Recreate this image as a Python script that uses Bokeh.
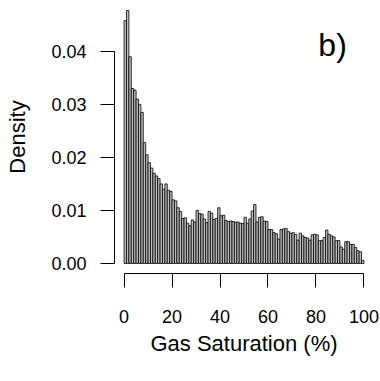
from bokeh.plotting import figure
from bokeh.models import FixedTicker, NumeralTickFormatter, Label, Range1d
from bokeh.embed import file_html
from bokeh.resources import INLINE

# Histogram: bin edges (Gas Saturation, %) and density per bin
bin_edges = list(range(0, 101))
density = [
    0.0458, 0.0477, 0.0390, 0.0330, 0.0327, 0.0310, 0.0300, 0.0285, 0.0228, 0.0205,
    0.0190, 0.0180, 0.0170, 0.0165, 0.0160, 0.0150, 0.0140, 0.0150, 0.0138, 0.0136,
    0.0120, 0.0118, 0.0105, 0.0098, 0.0085, 0.0086, 0.0076, 0.0071, 0.0082, 0.0078,
    0.0100, 0.0094, 0.0093, 0.0084, 0.0077, 0.0098, 0.0095, 0.0083, 0.0085, 0.0105,
    0.0090, 0.0091, 0.0081, 0.0079, 0.0080, 0.0079, 0.0078, 0.0078, 0.0076, 0.0075,
    0.0087, 0.0076, 0.0084, 0.0099, 0.0111, 0.0078, 0.0087, 0.0088, 0.0080, 0.0079,
    0.0064, 0.0064, 0.0058, 0.0056, 0.0046, 0.0064, 0.0065, 0.0066, 0.0060, 0.0057,
    0.0058, 0.0055, 0.0044, 0.0057, 0.0052, 0.0049, 0.0048, 0.0044, 0.0054, 0.0055,
    0.0054, 0.0043, 0.0043, 0.0049, 0.0063, 0.0055, 0.0052, 0.0050, 0.0043, 0.0043,
    0.0031, 0.0027, 0.0041, 0.0041, 0.0036, 0.0036, 0.0030, 0.0024, 0.0022, 0.0006,
]
x_ticks = [0, 20, 40, 60, 80, 100]
y_ticks = [0.0, 0.01, 0.02, 0.03, 0.04]
panel_label = "b)"
x_title = "Gas Saturation (%)"
y_title = "Density"

FONT = "Liberation Sans"

p = figure(width=380, height=381, output_backend="svg", toolbar_location=None,
           x_range=Range1d(-4, 104), y_range=Range1d(-0.0019, 0.0496),
           min_border_left=114, min_border_right=7, min_border_top=0,
           min_border_bottom=108)
p.outline_line_color = None
p.xgrid.visible = False
p.ygrid.visible = False
p.background_fill_color = "white"
p.border_fill_color = "white"

p.quad(left=bin_edges[:-1], right=bin_edges[1:], bottom=0, top=density,
       fill_color="#bebebe", line_color="black", line_width=0.8)

for ax, ticks in ((p.xaxis[0], x_ticks), (p.yaxis[0], y_ticks)):
    ax.ticker = FixedTicker(ticks=ticks)
    ax.bounds = (ticks[0], ticks[-1])
    ax.major_tick_in = 0
    ax.major_tick_out = 14
    ax.minor_tick_line_color = None
    ax.axis_line_color = "black"
    ax.major_tick_line_color = "black"
    ax.major_label_text_font = FONT
    ax.major_label_text_font_size = "18px"
    ax.major_label_text_color = "black"
    ax.axis_label_text_font = FONT
    ax.axis_label_text_font_size = "22px"
    ax.axis_label_text_font_style = "normal"
    ax.axis_label_text_color = "black"

p.yaxis[0].formatter = NumeralTickFormatter(format="0.00")
p.yaxis[0].major_label_orientation = "horizontal"
p.yaxis[0].major_label_standoff = 14
p.yaxis[0].axis_label = y_title
p.yaxis[0].axis_label_standoff = 18

p.xaxis[0].major_label_standoff = 22
p.xaxis[0].axis_label = x_title
p.xaxis[0].axis_label_standoff = 5

p.add_layout(Label(x=81, y=0.0378, text=panel_label, text_font=FONT,
                   text_font_size="32px", text_color="black",
                   text_baseline="bottom", text_align="left"))

open("out.html", "w").write(file_html(p, INLINE))
